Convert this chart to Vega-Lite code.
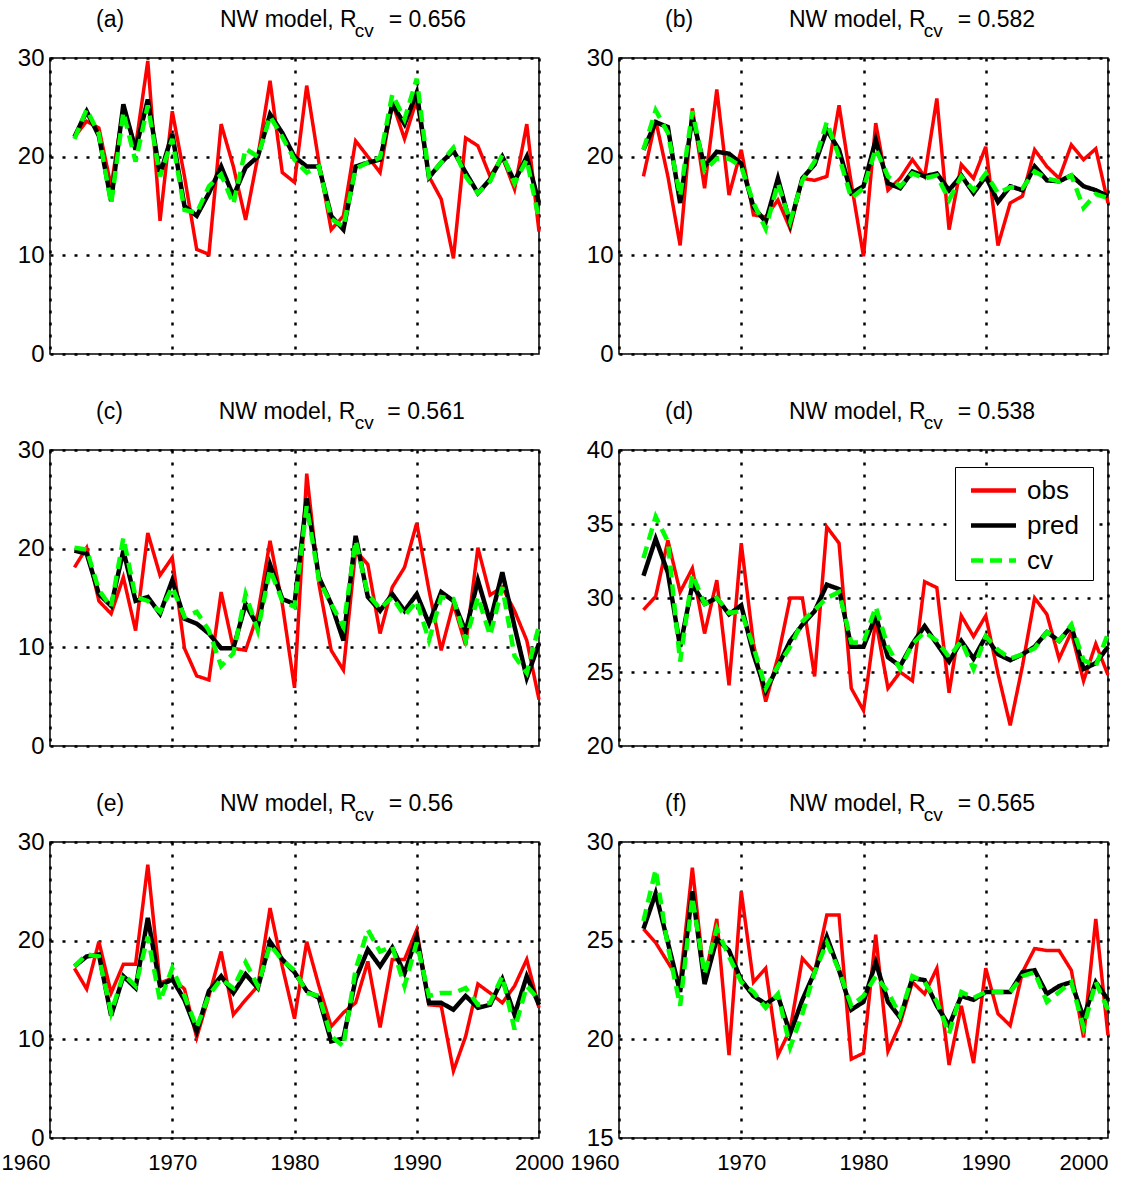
{
  "$schema": "https://vega.github.io/schema/vega-lite/v6.json",
  "padding": {"left": 0, "top": 8, "right": 5, "bottom": 2},
  "background": "white",
  "datasets": {
    "a": [
      {"year":1962,"obs":22,"pred":22,"cv":21.8},{"year":1963,"obs":23.6,"pred":24.6,"cv":24.8},{"year":1964,"obs":22.9,"pred":22.1,"cv":22.3},{"year":1965,"obs":17,"pred":15.5,"cv":15.2},{"year":1966,"obs":25,"pred":25.3,"cv":24.5},{"year":1967,"obs":21,"pred":20.7,"cv":19.5},{"year":1968,"obs":29.7,"pred":25.8,"cv":25.2},{"year":1969,"obs":13.5,"pred":18.2,"cv":18},{"year":1970,"obs":24.6,"pred":22.3,"cv":21.8},{"year":1971,"obs":18,"pred":15,"cv":14.6},{"year":1972,"obs":10.6,"pred":14,"cv":14.3},{"year":1973,"obs":10.1,"pred":16.3,"cv":17},{"year":1974,"obs":23.3,"pred":19,"cv":18.2},{"year":1975,"obs":19,"pred":16,"cv":15.2},{"year":1976,"obs":13.6,"pred":18.9,"cv":20.8},{"year":1977,"obs":20,"pred":20,"cv":20},{"year":1978,"obs":27.7,"pred":24.3,"cv":24.1},{"year":1979,"obs":18.4,"pred":22.4,"cv":22},{"year":1980,"obs":17.4,"pred":20,"cv":19.7},
      {"year":1981,"obs":27.2,"pred":19,"cv":18.4},{"year":1982,"obs":19.4,"pred":19,"cv":19},{"year":1983,"obs":12.6,"pred":14,"cv":13.7},{"year":1984,"obs":14,"pred":12.6,"cv":12.9},{"year":1985,"obs":21.6,"pred":19,"cv":18.8},{"year":1986,"obs":20,"pred":19.4,"cv":19.4},{"year":1987,"obs":18.4,"pred":19.7,"cv":19.9},{"year":1988,"obs":25.5,"pred":25.3,"cv":26.3},{"year":1989,"obs":21.8,"pred":23.3,"cv":23.8},{"year":1990,"obs":25.8,"pred":26.5,"cv":27.9},{"year":1991,"obs":18,"pred":17.9,"cv":18},{"year":1992,"obs":15.7,"pred":19.4,"cv":19.4},{"year":1993,"obs":9.7,"pred":20.6,"cv":20.9},{"year":1994,"obs":21.9,"pred":18.4,"cv":18},{"year":1995,"obs":21.1,"pred":16.3,"cv":16.3},{"year":1996,"obs":18,"pred":17.7,"cv":17.5},{"year":1997,"obs":20,"pred":20,"cv":20.2},{"year":1998,"obs":16.7,"pred":17.5,"cv":17.3},{"year":1999,"obs":23.3,"pred":20,"cv":19.7},{"year":2000,"obs":12.4,"pred":15.3,"cv":13.6}
    ],
    "b": [
      {"year":1962,"obs":18,"pred":20.7,"cv":20.7},{"year":1963,"obs":23.7,"pred":23.5,"cv":24.7},{"year":1964,"obs":18,"pred":23,"cv":22.4},{"year":1965,"obs":11,"pred":15.3,"cv":16},{"year":1966,"obs":24.9,"pred":24,"cv":24.6},{"year":1967,"obs":16.8,"pred":19,"cv":18.6},{"year":1968,"obs":26.8,"pred":20.5,"cv":19.8},{"year":1969,"obs":16.1,"pred":20.3,"cv":19.8},{"year":1970,"obs":20.7,"pred":19.3,"cv":19},{"year":1971,"obs":14.1,"pred":14.9,"cv":15.3},{"year":1972,"obs":13.9,"pred":13.4,"cv":12.7},{"year":1973,"obs":15.6,"pred":17.8,"cv":17.3},{"year":1974,"obs":12.7,"pred":13.2,"cv":13.4},{"year":1975,"obs":17.8,"pred":17.8,"cv":17.6},{"year":1976,"obs":17.6,"pred":19.2,"cv":19.5},{"year":1977,"obs":18,"pred":22.7,"cv":23.5},{"year":1978,"obs":25.2,"pred":20.7,"cv":20},{"year":1979,"obs":17.3,"pred":16.3,"cv":15.8},{"year":1980,"obs":9.9,"pred":17,"cv":16.8},
      {"year":1981,"obs":23.4,"pred":21.7,"cv":20.8},{"year":1982,"obs":16.6,"pred":17.3,"cv":18},{"year":1983,"obs":17.8,"pred":16.8,"cv":17},{"year":1984,"obs":19.7,"pred":18.5,"cv":18.3},{"year":1985,"obs":18,"pred":18,"cv":17.8},{"year":1986,"obs":25.9,"pred":18.3,"cv":18.1},{"year":1987,"obs":12.6,"pred":16.6,"cv":15.6},{"year":1988,"obs":19.2,"pred":18.1,"cv":18},{"year":1989,"obs":17.8,"pred":16.3,"cv":16.6},{"year":1990,"obs":21,"pred":18,"cv":18.3},{"year":1991,"obs":11,"pred":15.4,"cv":16.3},{"year":1992,"obs":15.3,"pred":17,"cv":16.9},{"year":1993,"obs":16,"pred":16.6,"cv":16.8},{"year":1994,"obs":20.7,"pred":19,"cv":18.5},{"year":1995,"obs":19,"pred":17.6,"cv":17.8},{"year":1996,"obs":17.8,"pred":17.5,"cv":17.5},{"year":1997,"obs":21.2,"pred":18.1,"cv":18.1},{"year":1998,"obs":19.7,"pred":17,"cv":14.8},{"year":1999,"obs":20.8,"pred":16.6,"cv":16.2},{"year":2000,"obs":15.3,"pred":16,"cv":15.8}
    ],
    "c": [
      {"year":1962,"obs":18.1,"pred":19.8,"cv":20.1},{"year":1963,"obs":20.1,"pred":19.5,"cv":19.9},{"year":1964,"obs":14.7,"pred":15.4,"cv":15.8},{"year":1965,"obs":13.4,"pred":14.2,"cv":14.1},{"year":1966,"obs":17.1,"pred":19.8,"cv":21.1},{"year":1967,"obs":11.7,"pred":14.7,"cv":15.1},{"year":1968,"obs":21.6,"pred":15.1,"cv":14.7},{"year":1969,"obs":17.3,"pred":13.4,"cv":13.6},{"year":1970,"obs":19.1,"pred":16.8,"cv":16.1},{"year":1971,"obs":9.9,"pred":12.9,"cv":13.1},{"year":1972,"obs":7.1,"pred":12.4,"cv":13.6},{"year":1973,"obs":6.7,"pred":11.4,"cv":11.7},{"year":1974,"obs":15.6,"pred":9.9,"cv":8.1},{"year":1975,"obs":9.9,"pred":9.9,"cv":9.4},{"year":1976,"obs":9.7,"pred":14.4,"cv":15.4},{"year":1977,"obs":13.4,"pred":12.1,"cv":11.7},{"year":1978,"obs":20.8,"pred":18.4,"cv":17.9},{"year":1979,"obs":14.4,"pred":14.9,"cv":14.7},{"year":1980,"obs":5.9,"pred":14.4,"cv":14.1},
      {"year":1981,"obs":27.6,"pred":25.1,"cv":24.3},{"year":1982,"obs":16.4,"pred":17.1,"cv":16.8},{"year":1983,"obs":9.7,"pred":14.4,"cv":14.4},{"year":1984,"obs":7.7,"pred":10.7,"cv":12.1},{"year":1985,"obs":19.8,"pred":21.3,"cv":20.8},{"year":1986,"obs":18.4,"pred":15.1,"cv":15.4},{"year":1987,"obs":11.4,"pred":13.7,"cv":13.9},{"year":1988,"obs":16.1,"pred":15.4,"cv":15.1},{"year":1989,"obs":18.1,"pred":13.7,"cv":13.2},{"year":1990,"obs":22.6,"pred":15.4,"cv":14.7},{"year":1991,"obs":15.8,"pred":12.4,"cv":10.7},{"year":1992,"obs":9.7,"pred":15.6,"cv":15.1},{"year":1993,"obs":14.4,"pred":14.7,"cv":14.9},{"year":1994,"obs":10.2,"pred":11.6,"cv":10.7},{"year":1995,"obs":20.1,"pred":16.8,"cv":15.1},{"year":1996,"obs":15.3,"pred":12.6,"cv":11.2},{"year":1997,"obs":16.1,"pred":17.6,"cv":16.1},{"year":1998,"obs":13.7,"pred":12.1,"cv":9.1},{"year":1999,"obs":10.7,"pred":6.9,"cv":7.4},{"year":2000,"obs":4.7,"pred":10.4,"cv":12.2}
    ],
    "d": [
      {"year":1962,"obs":29.2,"pred":31.5,"cv":32.7},{"year":1963,"obs":30.1,"pred":34,"cv":35.5},{"year":1964,"obs":33.9,"pred":31.7,"cv":33.8},{"year":1965,"obs":30.4,"pred":26.7,"cv":25.7},{"year":1966,"obs":32,"pred":30.9,"cv":31.6},{"year":1967,"obs":27.6,"pred":29.6,"cv":29.6},{"year":1968,"obs":31.2,"pred":30,"cv":30},{"year":1969,"obs":24.1,"pred":28.9,"cv":29},{"year":1970,"obs":33.7,"pred":29.5,"cv":29.1},{"year":1971,"obs":26.9,"pred":26.2,"cv":26.7},{"year":1972,"obs":23,"pred":23.7,"cv":23.9},{"year":1973,"obs":26,"pred":25.4,"cv":25.4},{"year":1974,"obs":30,"pred":27.1,"cv":26.7},{"year":1975,"obs":30,"pred":28.2,"cv":28.4},{"year":1976,"obs":24.7,"pred":29.1,"cv":29.2},{"year":1977,"obs":34.8,"pred":30.9,"cv":30},{"year":1978,"obs":33.7,"pred":30.6,"cv":30.4},{"year":1979,"obs":23.9,"pred":26.7,"cv":27},{"year":1980,"obs":22.4,"pred":26.7,"cv":27},
      {"year":1981,"obs":28.5,"pred":28.8,"cv":29.4},{"year":1982,"obs":23.9,"pred":26,"cv":26.7},{"year":1983,"obs":25,"pred":25.4,"cv":25.2},{"year":1984,"obs":24.4,"pred":26.9,"cv":26.9},{"year":1985,"obs":31.1,"pred":28.1,"cv":27.7},{"year":1986,"obs":30.7,"pred":26.9,"cv":27.1},{"year":1987,"obs":23.6,"pred":25.7,"cv":26},{"year":1988,"obs":28.8,"pred":27.1,"cv":27.1},{"year":1989,"obs":27.4,"pred":25.9,"cv":25.2},{"year":1990,"obs":28.8,"pred":27.4,"cv":27.4},{"year":1991,"obs":24.9,"pred":26.2,"cv":26.5},{"year":1992,"obs":21.4,"pred":25.8,"cv":25.9},{"year":1993,"obs":25.4,"pred":26.2,"cv":26.2},{"year":1994,"obs":30,"pred":26.7,"cv":26.6},{"year":1995,"obs":28.9,"pred":27.7,"cv":27.7},{"year":1996,"obs":25.9,"pred":27.1,"cv":27.1},{"year":1997,"obs":27.7,"pred":28.1,"cv":28.2},{"year":1998,"obs":24.4,"pred":25.2,"cv":25.8},{"year":1999,"obs":26.9,"pred":25.6,"cv":25.4},{"year":2000,"obs":24.8,"pred":26.7,"cv":27.6}
    ],
    "e": [
      {"year":1962,"obs":17.2,"pred":17.4,"cv":17.4},{"year":1963,"obs":15.1,"pred":18.4,"cv":18.6},{"year":1964,"obs":19.9,"pred":18.6,"cv":18.4},{"year":1965,"obs":14.7,"pred":12.4,"cv":12.7},{"year":1966,"obs":17.6,"pred":16.4,"cv":16.6},{"year":1967,"obs":17.6,"pred":15.2,"cv":15.4},{"year":1968,"obs":27.7,"pred":22.3,"cv":20.4},{"year":1969,"obs":15.7,"pred":15.4,"cv":13.9},{"year":1970,"obs":16.2,"pred":16.1,"cv":17.2},{"year":1971,"obs":15.1,"pred":14,"cv":14.4},{"year":1972,"obs":10.2,"pred":10.8,"cv":11.2},{"year":1973,"obs":14.4,"pred":14.9,"cv":14.5},{"year":1974,"obs":18.9,"pred":16.4,"cv":16.1},{"year":1975,"obs":12.5,"pred":14.7,"cv":15.2},{"year":1976,"obs":14,"pred":16.6,"cv":17.8},{"year":1977,"obs":15.4,"pred":15.2,"cv":15.4},{"year":1978,"obs":23.3,"pred":19.9,"cv":19.6},{"year":1979,"obs":17.4,"pred":18.1,"cv":18},{"year":1980,"obs":12.1,"pred":16.8,"cv":17},
      {"year":1981,"obs":19.9,"pred":14.9,"cv":14.7},{"year":1982,"obs":15.4,"pred":14.2,"cv":14.4},{"year":1983,"obs":11.3,"pred":9.8,"cv":10.3},{"year":1984,"obs":12.7,"pred":10.1,"cv":9.3},{"year":1985,"obs":13.7,"pred":16.1,"cv":17.1},{"year":1986,"obs":17.9,"pred":19.1,"cv":21.1},{"year":1987,"obs":11.2,"pred":17.4,"cv":18.9},{"year":1988,"obs":18.1,"pred":19.3,"cv":19.4},{"year":1989,"obs":18.1,"pred":16.7,"cv":15.4},{"year":1990,"obs":21.1,"pred":20.4,"cv":19.8},{"year":1991,"obs":13.5,"pred":13.7,"cv":14.4},{"year":1992,"obs":13.4,"pred":13.7,"cv":14.7},{"year":1993,"obs":6.8,"pred":13,"cv":14.7},{"year":1994,"obs":10.3,"pred":14.4,"cv":15.2},{"year":1995,"obs":15.6,"pred":13.2,"cv":13.5},{"year":1996,"obs":14.7,"pred":13.5,"cv":13.7},{"year":1997,"obs":13.7,"pred":16.1,"cv":16.4},{"year":1998,"obs":15.4,"pred":12.5,"cv":11},{"year":1999,"obs":18.1,"pred":16.4,"cv":15.4},{"year":2000,"obs":13.2,"pred":13.5,"cv":14}
    ],
    "f": [
      {"year":1962,"obs":25.6,"pred":25.6,"cv":26},{"year":1963,"obs":24.9,"pred":27.4,"cv":28.6},{"year":1964,"obs":23.9,"pred":24.9,"cv":24.7},{"year":1965,"obs":22.9,"pred":22.4,"cv":21.7},{"year":1966,"obs":28.7,"pred":27.5,"cv":27.2},{"year":1967,"obs":23,"pred":22.8,"cv":23.3},{"year":1968,"obs":26.1,"pred":25.1,"cv":25.6},{"year":1969,"obs":19.2,"pred":24.5,"cv":24.2},{"year":1970,"obs":27.5,"pred":23,"cv":22.9},{"year":1971,"obs":22.9,"pred":22.2,"cv":22.4},{"year":1972,"obs":23.6,"pred":21.8,"cv":21.6},{"year":1973,"obs":19.2,"pred":22.2,"cv":22.3},{"year":1974,"obs":20.5,"pred":20.3,"cv":19.6},{"year":1975,"obs":24.1,"pred":22,"cv":21.3},{"year":1976,"obs":23.4,"pred":23.4,"cv":23.4},{"year":1977,"obs":26.3,"pred":25.2,"cv":24.9},{"year":1978,"obs":26.3,"pred":23.5,"cv":23.5},{"year":1979,"obs":19,"pred":21.5,"cv":21.7},{"year":1980,"obs":19.3,"pred":21.9,"cv":22.2},
      {"year":1981,"obs":25.3,"pred":23.9,"cv":23.2},{"year":1982,"obs":19.4,"pred":21.9,"cv":22.4},{"year":1983,"obs":20.8,"pred":21.1,"cv":21.2},{"year":1984,"obs":22.9,"pred":23.1,"cv":23.2},{"year":1985,"obs":22.3,"pred":23,"cv":22.9},{"year":1986,"obs":23.6,"pred":21.7,"cv":21.9},{"year":1987,"obs":18.7,"pred":20.7,"cv":20.3},{"year":1988,"obs":21.7,"pred":22.2,"cv":22.4},{"year":1989,"obs":18.8,"pred":22,"cv":22.1},{"year":1990,"obs":23.6,"pred":22.4,"cv":22.4},{"year":1991,"obs":21.3,"pred":22.4,"cv":22.4},{"year":1992,"obs":20.7,"pred":22.4,"cv":22.4},{"year":1993,"obs":23.4,"pred":23.4,"cv":23.2},{"year":1994,"obs":24.6,"pred":23.5,"cv":23.4},{"year":1995,"obs":24.5,"pred":22.3,"cv":21.9},{"year":1996,"obs":24.5,"pred":22.7,"cv":22.4},{"year":1997,"obs":23.5,"pred":22.9,"cv":22.9},{"year":1998,"obs":20.1,"pred":21.1,"cv":20.6},{"year":1999,"obs":26.1,"pred":22.9,"cv":22.9},{"year":2000,"obs":20.2,"pred":22,"cv":21.5}
    ]
  },
  "columns": 2,
  "bounds": "flush",
  "spacing": {"row": 96, "column": 80},
  "resolve": {
    "scale": {"x": "independent", "y": "independent", "color": "independent", "strokeDash": "independent"},
    "legend": {"color": "independent", "strokeDash": "independent"}
  },
  "concat": [
    {
      "width": 489, "height": 296,
      "data": {"name": "a"},
      "title": {"text": "(a)\u00a0\u00a0\u00a0\u00a0\u00a0\u00a0\u00a0\u00a0\u00a0\u00a0\u00a0\u00a0\u00a0\u00a0\u00a0NW model, R\u00a0\u00a0\u00a0\u00a0\u00a0= 0.656", "subtitle": "\u200b\u00a0\u00a0\u00a0\u00a0\u00a0\u00a0\u00a0\u00a0\u00a0\u00a0\u00a0\u00a0\u00a0\u00a0\u00a0\u00a0\u00a0\u00a0\u00a0\u00a0\u00a0\u00a0\u00a0\u00a0\u00a0\u00a0\u00a0\u00a0\u00a0\u00a0\u00a0\u00a0\u00a0\u00a0\u00a0\u00a0\u00a0\u00a0\u00a0\u00a0\u00a0\u00a0\u00a0\u00a0\u00a0\u00a0\u00a0\u00a0\u00a0cv"},
      "encoding": {"x": {"field": "year", "type": "quantitative", "scale": {"domain": [1960, 2000], "nice": false, "zero": false}, "axis": {"values": [1960, 1970, 1980, 1990, 2000], "labels": false, "title": null}}},
      "layer": [
        {"mark": {"type": "line", "strokeWidth": 3.5}, "encoding": {"y": {"field": "obs", "type": "quantitative", "scale": {"domain": [0, 30], "nice": false, "zero": false}, "axis": {"values": [0, 10, 20, 30], "title": null}}, "color": {"datum": "obs", "type": "nominal", "scale": {"domain": ["obs", "pred", "cv"], "range": ["#ff0000", "#000000", "#00ff00"]}, "legend": null}, "strokeDash": {"datum": "obs", "type": "nominal", "scale": {"domain": ["obs", "pred", "cv"], "range": [[1, 0], [1, 0], [12, 7]]}, "legend": null}}},
        {"mark": {"type": "line", "strokeWidth": 4.5}, "encoding": {"y": {"field": "pred", "type": "quantitative", "title": null}, "color": {"datum": "pred", "type": "nominal", "legend": null}, "strokeDash": {"datum": "pred", "type": "nominal", "legend": null}}},
        {"mark": {"type": "line", "strokeWidth": 4.5}, "encoding": {"y": {"field": "cv", "type": "quantitative", "title": null}, "color": {"datum": "cv", "type": "nominal", "legend": null}, "strokeDash": {"datum": "cv", "type": "nominal", "legend": null}}}
      ]
    },
    {
      "width": 489, "height": 296,
      "data": {"name": "b"},
      "title": {"text": "(b)\u00a0\u00a0\u00a0\u00a0\u00a0\u00a0\u00a0\u00a0\u00a0\u00a0\u00a0\u00a0\u00a0\u00a0\u00a0NW model, R\u00a0\u00a0\u00a0\u00a0\u00a0= 0.582", "subtitle": "\u200b\u00a0\u00a0\u00a0\u00a0\u00a0\u00a0\u00a0\u00a0\u00a0\u00a0\u00a0\u00a0\u00a0\u00a0\u00a0\u00a0\u00a0\u00a0\u00a0\u00a0\u00a0\u00a0\u00a0\u00a0\u00a0\u00a0\u00a0\u00a0\u00a0\u00a0\u00a0\u00a0\u00a0\u00a0\u00a0\u00a0\u00a0\u00a0\u00a0\u00a0\u00a0\u00a0\u00a0\u00a0\u00a0\u00a0\u00a0\u00a0\u00a0cv"},
      "encoding": {"x": {"field": "year", "type": "quantitative", "scale": {"domain": [1960, 2000], "nice": false, "zero": false}, "axis": {"values": [1960, 1970, 1980, 1990, 2000], "labels": false, "title": null}}},
      "layer": [
        {"mark": {"type": "line", "strokeWidth": 3.5}, "encoding": {"y": {"field": "obs", "type": "quantitative", "scale": {"domain": [0, 30], "nice": false, "zero": false}, "axis": {"values": [0, 10, 20, 30], "title": null}}, "color": {"datum": "obs", "type": "nominal", "scale": {"domain": ["obs", "pred", "cv"], "range": ["#ff0000", "#000000", "#00ff00"]}, "legend": null}, "strokeDash": {"datum": "obs", "type": "nominal", "scale": {"domain": ["obs", "pred", "cv"], "range": [[1, 0], [1, 0], [12, 7]]}, "legend": null}}},
        {"mark": {"type": "line", "strokeWidth": 4.5}, "encoding": {"y": {"field": "pred", "type": "quantitative", "title": null}, "color": {"datum": "pred", "type": "nominal", "legend": null}, "strokeDash": {"datum": "pred", "type": "nominal", "legend": null}}},
        {"mark": {"type": "line", "strokeWidth": 4.5}, "encoding": {"y": {"field": "cv", "type": "quantitative", "title": null}, "color": {"datum": "cv", "type": "nominal", "legend": null}, "strokeDash": {"datum": "cv", "type": "nominal", "legend": null}}}
      ]
    },
    {
      "width": 489, "height": 296,
      "data": {"name": "c"},
      "title": {"text": "(c)\u00a0\u00a0\u00a0\u00a0\u00a0\u00a0\u00a0\u00a0\u00a0\u00a0\u00a0\u00a0\u00a0\u00a0\u00a0NW model, R\u00a0\u00a0\u00a0\u00a0\u00a0= 0.561", "subtitle": "\u200b\u00a0\u00a0\u00a0\u00a0\u00a0\u00a0\u00a0\u00a0\u00a0\u00a0\u00a0\u00a0\u00a0\u00a0\u00a0\u00a0\u00a0\u00a0\u00a0\u00a0\u00a0\u00a0\u00a0\u00a0\u00a0\u00a0\u00a0\u00a0\u00a0\u00a0\u00a0\u00a0\u00a0\u00a0\u00a0\u00a0\u00a0\u00a0\u00a0\u00a0\u00a0\u00a0\u00a0\u00a0\u00a0\u00a0\u00a0\u00a0\u00a0cv"},
      "encoding": {"x": {"field": "year", "type": "quantitative", "scale": {"domain": [1960, 2000], "nice": false, "zero": false}, "axis": {"values": [1960, 1970, 1980, 1990, 2000], "labels": false, "title": null}}},
      "layer": [
        {"mark": {"type": "line", "strokeWidth": 3.5}, "encoding": {"y": {"field": "obs", "type": "quantitative", "scale": {"domain": [0, 30], "nice": false, "zero": false}, "axis": {"values": [0, 10, 20, 30], "title": null}}, "color": {"datum": "obs", "type": "nominal", "scale": {"domain": ["obs", "pred", "cv"], "range": ["#ff0000", "#000000", "#00ff00"]}, "legend": null}, "strokeDash": {"datum": "obs", "type": "nominal", "scale": {"domain": ["obs", "pred", "cv"], "range": [[1, 0], [1, 0], [12, 7]]}, "legend": null}}},
        {"mark": {"type": "line", "strokeWidth": 4.5}, "encoding": {"y": {"field": "pred", "type": "quantitative", "title": null}, "color": {"datum": "pred", "type": "nominal", "legend": null}, "strokeDash": {"datum": "pred", "type": "nominal", "legend": null}}},
        {"mark": {"type": "line", "strokeWidth": 4.5}, "encoding": {"y": {"field": "cv", "type": "quantitative", "title": null}, "color": {"datum": "cv", "type": "nominal", "legend": null}, "strokeDash": {"datum": "cv", "type": "nominal", "legend": null}}}
      ]
    },
    {
      "width": 489, "height": 296,
      "data": {"name": "d"},
      "title": {"text": "(d)\u00a0\u00a0\u00a0\u00a0\u00a0\u00a0\u00a0\u00a0\u00a0\u00a0\u00a0\u00a0\u00a0\u00a0\u00a0NW model, R\u00a0\u00a0\u00a0\u00a0\u00a0= 0.538", "subtitle": "\u200b\u00a0\u00a0\u00a0\u00a0\u00a0\u00a0\u00a0\u00a0\u00a0\u00a0\u00a0\u00a0\u00a0\u00a0\u00a0\u00a0\u00a0\u00a0\u00a0\u00a0\u00a0\u00a0\u00a0\u00a0\u00a0\u00a0\u00a0\u00a0\u00a0\u00a0\u00a0\u00a0\u00a0\u00a0\u00a0\u00a0\u00a0\u00a0\u00a0\u00a0\u00a0\u00a0\u00a0\u00a0\u00a0\u00a0\u00a0\u00a0\u00a0cv"},
      "encoding": {"x": {"field": "year", "type": "quantitative", "scale": {"domain": [1960, 2000], "nice": false, "zero": false}, "axis": {"values": [1960, 1970, 1980, 1990, 2000], "labels": false, "title": null}}},
      "layer": [
        {"mark": {"type": "line", "strokeWidth": 3.5}, "encoding": {"y": {"field": "obs", "type": "quantitative", "scale": {"domain": [20, 40], "nice": false, "zero": false}, "axis": {"values": [20, 25, 30, 35, 40], "title": null}}, "color": {"datum": "obs", "type": "nominal", "scale": {"domain": ["obs", "pred", "cv"], "range": ["#ff0000", "#000000", "#00ff00"]}, "legend": {"title": null, "orient": "none", "legendX": 336, "legendY": 17, "strokeColor": "black", "fillColor": "white", "padding": 6, "cornerRadius": 0, "labelFontSize": 26, "labelFont": "Liberation Sans", "labelColor": "black", "symbolType": "M-1.5,0H1.5", "symbolSize": 900, "symbolStrokeWidth": 4.5, "symbolFillColor": "transparent", "symbolOffset": 15, "labelOffset": 16, "rowPadding": 4, "labelExpr": "datum.label + '\u00a0\u200b'"}}, "strokeDash": {"datum": "obs", "type": "nominal", "scale": {"domain": ["obs", "pred", "cv"], "range": [[1, 0], [1, 0], [12, 7]]}, "legend": {"title": null, "orient": "none", "legendX": 336, "legendY": 17, "strokeColor": "black", "fillColor": "white", "padding": 6, "cornerRadius": 0, "labelFontSize": 26, "labelFont": "Liberation Sans", "labelColor": "black", "symbolType": "M-1.5,0H1.5", "symbolSize": 900, "symbolStrokeWidth": 4.5, "symbolFillColor": "transparent", "symbolOffset": 15, "labelOffset": 16, "rowPadding": 4, "labelExpr": "datum.label + '\u00a0\u200b'"}}}},
        {"mark": {"type": "line", "strokeWidth": 4.5}, "encoding": {"y": {"field": "pred", "type": "quantitative", "title": null}, "color": {"datum": "pred", "type": "nominal"}, "strokeDash": {"datum": "pred", "type": "nominal"}}},
        {"mark": {"type": "line", "strokeWidth": 4.5}, "encoding": {"y": {"field": "cv", "type": "quantitative", "title": null}, "color": {"datum": "cv", "type": "nominal"}, "strokeDash": {"datum": "cv", "type": "nominal"}}}
      ]
    },
    {
      "width": 489, "height": 296,
      "data": {"name": "e"},
      "title": {"text": "(e)\u00a0\u00a0\u00a0\u00a0\u00a0\u00a0\u00a0\u00a0\u00a0\u00a0\u00a0\u00a0\u00a0\u00a0\u00a0NW model, R\u00a0\u00a0\u00a0\u00a0\u00a0= 0.56", "subtitle": "\u200b\u00a0\u00a0\u00a0\u00a0\u00a0\u00a0\u00a0\u00a0\u00a0\u00a0\u00a0\u00a0\u00a0\u00a0\u00a0\u00a0\u00a0\u00a0\u00a0\u00a0\u00a0\u00a0\u00a0\u00a0\u00a0\u00a0\u00a0\u00a0\u00a0\u00a0\u00a0\u00a0\u00a0\u00a0\u00a0\u00a0\u00a0\u00a0\u00a0\u00a0\u00a0\u00a0\u00a0\u00a0\u00a0\u00a0\u00a0\u00a0\u00a0cv"},
      "encoding": {"x": {"field": "year", "type": "quantitative", "scale": {"domain": [1960, 2000], "nice": false, "zero": false}, "axis": {"values": [1960, 1970, 1980, 1990, 2000], "format": "d", "title": null, "labelFlush": false, "labelAlign": {"condition": {"test": "datum.value == 1960", "value": "right"}, "value": "center"}}}},
      "layer": [
        {"mark": {"type": "line", "strokeWidth": 3.5}, "encoding": {"y": {"field": "obs", "type": "quantitative", "scale": {"domain": [0, 30], "nice": false, "zero": false}, "axis": {"values": [0, 10, 20, 30], "title": null}}, "color": {"datum": "obs", "type": "nominal", "scale": {"domain": ["obs", "pred", "cv"], "range": ["#ff0000", "#000000", "#00ff00"]}, "legend": null}, "strokeDash": {"datum": "obs", "type": "nominal", "scale": {"domain": ["obs", "pred", "cv"], "range": [[1, 0], [1, 0], [12, 7]]}, "legend": null}}},
        {"mark": {"type": "line", "strokeWidth": 4.5}, "encoding": {"y": {"field": "pred", "type": "quantitative", "title": null}, "color": {"datum": "pred", "type": "nominal", "legend": null}, "strokeDash": {"datum": "pred", "type": "nominal", "legend": null}}},
        {"mark": {"type": "line", "strokeWidth": 4.5}, "encoding": {"y": {"field": "cv", "type": "quantitative", "title": null}, "color": {"datum": "cv", "type": "nominal", "legend": null}, "strokeDash": {"datum": "cv", "type": "nominal", "legend": null}}}
      ]
    },
    {
      "width": 489, "height": 296,
      "data": {"name": "f"},
      "title": {"text": "(f)\u00a0\u00a0\u00a0\u00a0\u00a0\u00a0\u00a0\u00a0\u00a0\u00a0\u00a0\u00a0\u00a0\u00a0\u00a0\u00a0NW model, R\u00a0\u00a0\u00a0\u00a0\u00a0= 0.565", "subtitle": "\u200b\u00a0\u00a0\u00a0\u00a0\u00a0\u00a0\u00a0\u00a0\u00a0\u00a0\u00a0\u00a0\u00a0\u00a0\u00a0\u00a0\u00a0\u00a0\u00a0\u00a0\u00a0\u00a0\u00a0\u00a0\u00a0\u00a0\u00a0\u00a0\u00a0\u00a0\u00a0\u00a0\u00a0\u00a0\u00a0\u00a0\u00a0\u00a0\u00a0\u00a0\u00a0\u00a0\u00a0\u00a0\u00a0\u00a0\u00a0\u00a0\u00a0cv"},
      "encoding": {"x": {"field": "year", "type": "quantitative", "scale": {"domain": [1960, 2000], "nice": false, "zero": false}, "axis": {"values": [1960, 1970, 1980, 1990, 2000], "format": "d", "title": null, "labelFlush": false, "labelAlign": {"condition": {"test": "datum.value == 1960 || datum.value == 2000", "value": "right"}, "value": "center"}}}},
      "layer": [
        {"mark": {"type": "line", "strokeWidth": 3.5}, "encoding": {"y": {"field": "obs", "type": "quantitative", "scale": {"domain": [15, 30], "nice": false, "zero": false}, "axis": {"values": [15, 20, 25, 30], "title": null}}, "color": {"datum": "obs", "type": "nominal", "scale": {"domain": ["obs", "pred", "cv"], "range": ["#ff0000", "#000000", "#00ff00"]}, "legend": null}, "strokeDash": {"datum": "obs", "type": "nominal", "scale": {"domain": ["obs", "pred", "cv"], "range": [[1, 0], [1, 0], [12, 7]]}, "legend": null}}},
        {"mark": {"type": "line", "strokeWidth": 4.5}, "encoding": {"y": {"field": "pred", "type": "quantitative", "title": null}, "color": {"datum": "pred", "type": "nominal", "legend": null}, "strokeDash": {"datum": "pred", "type": "nominal", "legend": null}}},
        {"mark": {"type": "line", "strokeWidth": 4.5}, "encoding": {"y": {"field": "cv", "type": "quantitative", "title": null}, "color": {"datum": "cv", "type": "nominal", "legend": null}, "strokeDash": {"datum": "cv", "type": "nominal", "legend": null}}}
      ]
    }
  ],
  "config": {
    "font": "Liberation Sans",
    "view": {"stroke": "black", "strokeWidth": 1.5},
    "axis": {"domain": false, "ticks": false, "grid": true, "gridColor": "black", "gridDash": [3, 9], "gridWidth": 2.5, "gridOpacity": 1, "labelFont": "Liberation Sans", "labelColor": "black"},
    "axisX": {"labelPadding": 14, "labelFontSize": 22},
    "axisY": {"labelPadding": 6, "labelFontSize": 24},
    "title": {"font": "Liberation Sans", "fontSize": 23, "fontWeight": "normal", "color": "black", "anchor": "start", "align": "left", "frame": "group", "dx": 46, "offset": 5, "subtitleFont": "Liberation Sans", "subtitleFontSize": 19, "subtitleColor": "black", "subtitlePadding": -10}
  }
}
